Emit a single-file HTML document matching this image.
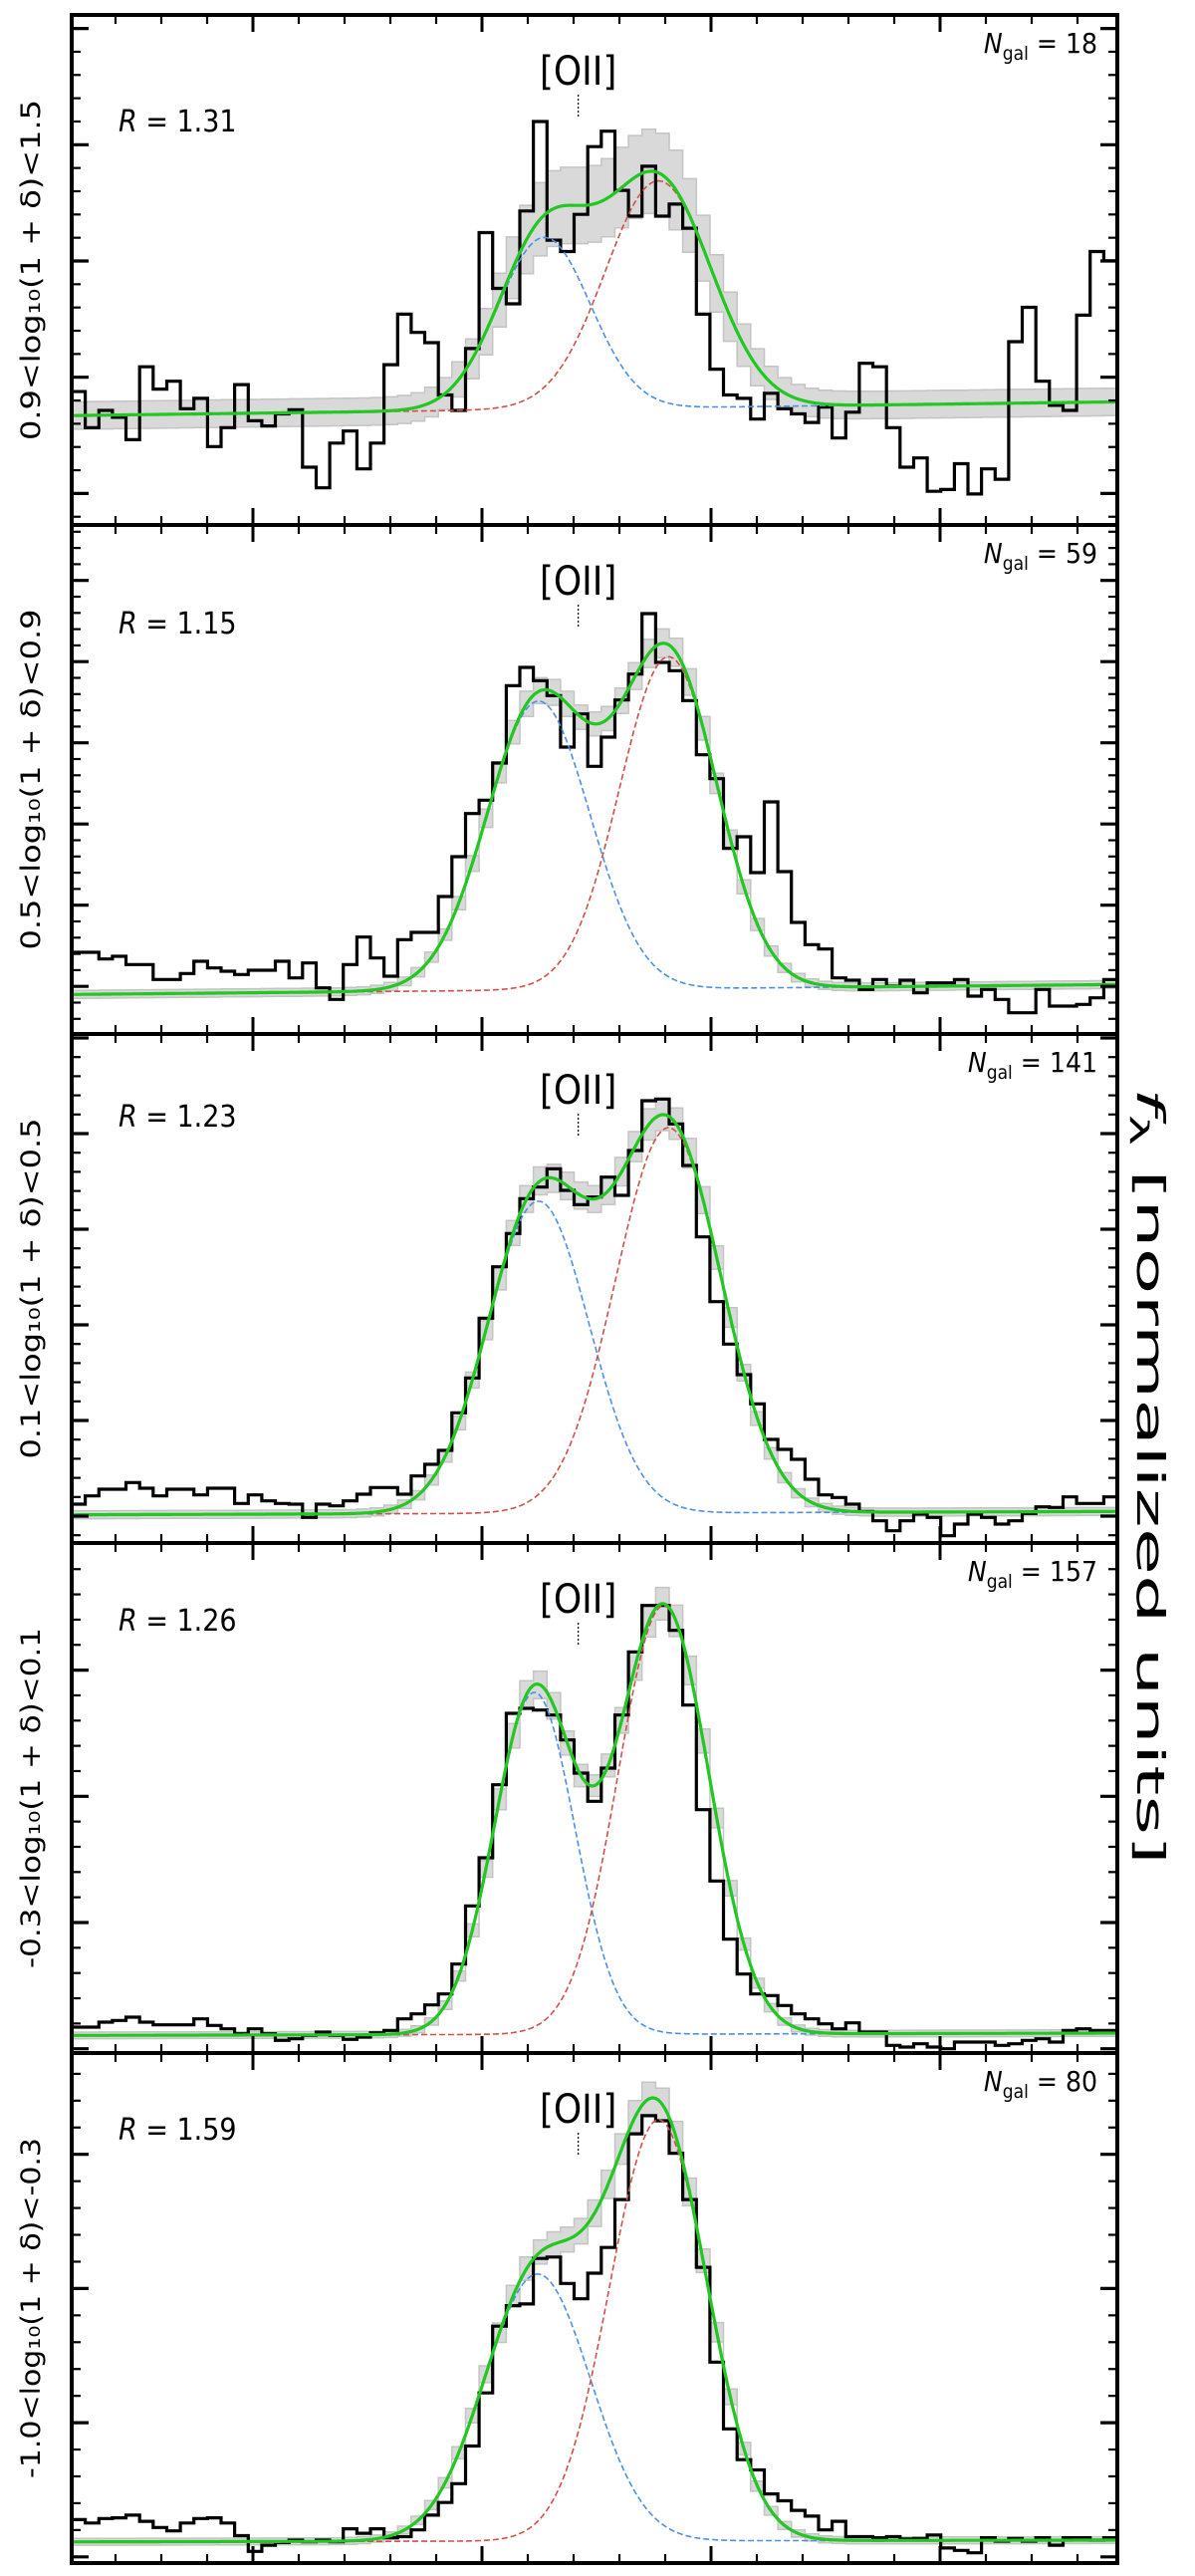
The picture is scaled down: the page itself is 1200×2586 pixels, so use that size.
<!DOCTYPE html>
<html><head><meta charset="utf-8"><style>
html,body{margin:0;padding:0;background:#fff;}
svg{display:block;}
text{font-family:"DejaVu Sans","Liberation Sans",sans-serif;}
.cond{font-family:"DejaVu Sans Condensed","DejaVu Sans","Liberation Sans",sans-serif;}
</style></head><body>
<svg id="fig" xmlns="http://www.w3.org/2000/svg" width="1200" height="2586" viewBox="0 0 1200 2586">
<rect x="0" y="0" width="1200" height="2586" fill="#fff"/>
<text x="0" y="0" font-size="38" transform="translate(1142,1092) rotate(90)" fill="#000" textLength="780" lengthAdjust="spacingAndGlyphs"><tspan font-style="italic">f</tspan><tspan font-size="26" dy="7">λ</tspan><tspan dy="-7"> [normalized units]</tspan></text>
</svg>
<script>
// ---- data: stacked [OII] spectra, flux per bin (normalized units) ----
const panelLabels = ["0.9<log\u2081\u2080(1 + \u03b4)<1.5","0.5<log\u2081\u2080(1 + \u03b4)<0.9","0.1<log\u2081\u2080(1 + \u03b4)<0.5","-0.3<log\u2081\u2080(1 + \u03b4)<0.1","-1.0<log\u2081\u2080(1 + \u03b4)<-0.3"];
const ratioLabels = ["1.31","1.15","1.23","1.26","1.59"];
const ngalLabels = ["18","59","141","157","80"];
const flux1 = [0.65,-0.40,0.10,-0.10,-0.75,1.37,0.72,0.95,0.15,0.45,-0.95,-0.40,0.85,-0.20,-0.35,0,0.12,-1.55,-2.15,-0.85,-0.50,-1.60,-0.85,1.43,2.90,2.37,2.07,0.55,0.10,1.90,5.27,3.65,3.20,5.90,8.50,5.05,4.72,5.80,7.77,8.22,6.50,5.75,7.20,5.75,6.10,5.40,2.90,1.30,0.55,0.45,-0.15,0.60,0.15,0,-0.25,0.20,-0.70,0.05,1.47,1.37,-0.40,-1.55,-1.28,-2.25,-2.20,-1.45,-2.33,-1.60,-1.90,2.10,3.10,0.95,0.25,0.10,2.87,4.72,4.45];
const flux2 = [1.27,1.27,1.07,1.15,0.90,0.90,0.45,0.45,0.63,1.00,0.80,0.70,0.60,0.73,0.73,1.00,0.50,0.95,0.20,-0.15,0.90,1.73,1.10,0.55,1.65,1.87,1.87,2.95,4.15,5.45,5.85,6.97,9.30,9.85,9.45,9.00,7.45,8.45,6.87,7.75,8.87,9.65,11.47,10.00,9.75,8.85,7.22,6.50,4.40,4.75,3.67,5.80,3.70,2.17,1.50,1.37,0.50,0.43,0.15,0.45,0.25,0.43,0.05,0.35,0.35,0.45,-0.05,0.15,-0.15,-0.55,-0.55,0.15,-0.35,-0.35,-0.30,-0.10,0.45];
const flux3 = [0.32,0.57,0.77,0.77,0.97,0.80,0.57,0.77,0.77,0.60,0.80,0.80,0.34,0.60,0.42,0.34,0.32,-0.08,0.32,0.27,0.42,0.62,0.82,0.82,0.62,1.17,1.52,1.94,3.07,4.12,5.92,7.47,8.47,9.52,9.87,10.42,9.77,9.34,9.57,10.17,9.62,10.97,12.47,12.52,11.77,10.52,8.37,6.42,5.14,4.22,3.34,2.27,1.97,1.67,1.07,0.60,0.52,0.32,0.10,-0.18,-0.48,-0.18,0.02,-0.08,-0.63,-0.28,0.02,-0.08,-0.28,-0.18,0.04,0.24,0.22,0.54,0.34,0.34,0.54];
const flux4 = [0.25,0.25,0.40,0.45,0.55,0.40,0.32,0.32,0.32,0.50,0.30,0.20,0.05,0.20,0.05,-0.15,-0.10,0,0.10,0,-0.12,-0.05,0.08,0.15,0.50,0.65,0.92,1.25,2.15,3.90,5.35,7.55,9.70,9.85,9.80,9.65,8.90,7.90,7.05,8.05,9.65,11.55,12.95,12.95,12.20,9.95,6.80,4.65,2.90,1.85,1.25,1.20,0.90,0.65,0.50,0.35,0.20,0.38,0.10,0.10,-0.30,-0.35,-0.25,-0.35,-0.40,-0.20,-0.20,-0.20,-0.30,-0.25,-0.15,-0.10,-0.20,0.15,0.20,0.15,0.15];
const flux5 = [0.65,0.55,0.68,0.70,0.78,0.60,0.42,0.32,0.55,0.68,0.70,0.55,0.18,-0.28,-0.10,-0.02,0.05,0,0.05,0,0.38,0.25,0.38,0.12,0.15,0.35,0.78,1.15,1.70,2.80,4.35,6.30,6.90,6.95,8.28,8.32,7.55,7.10,7.85,8.60,10.00,11.92,12.45,12.30,11.35,10.00,8.02,5.25,3.30,2.40,2.10,1.40,1.20,0.92,0.75,0.35,0.60,0.15,0.15,0.12,0.15,0.08,0.10,0.20,-0.18,-0.25,-0.32,0.12,0.02,0.10,0.02,0.12,-0.10,0.12,0.12,0.05,0.12];
const fluxes = [flux1,flux2,flux3,flux4,flux5];
// gaussian fit components (centre & width in bin units, amplitude in flux units)
const blueCenter = [34.8,34.37,34.37,34.08,34.3];
const blueSigma  = [3.4,3.8,3.73,2.97,3.9];
const blueAmp    = [5.0,8.7,9.4,10.3,7.8];
const redCenter  = [43.2,43.95,43.95,43.58,43.22];
const redSigma   = [3.9,3.6,3.9,3.35,3.6];
const redAmp     = [6.6,10.0,11.6,12.9,12.3];
const contLeft   = [-0.05,0,0,0,0];
const contRight  = [0.35,0.3,0.1,0.07,0.05];
const errBase    = [0.4,0.12,0.12,0.1,0.1];
const errFrac    = [0.12,0.03,0.03,0.03,0.03];
const yMin = [-3.23,-1.19,-0.85,-0.53,-0.62];
const yMax = [11.6,14.14,14.48,14.83,14.28];
const oiiBin = 37.3;

// ---- layout (styling) ----
const NS="http://www.w3.org/2000/svg";
const svg=document.getElementById('fig');
const L=72, R=1122;
const tops=[15,527,1038,1549,2061,2573];
const ytickAnchor=[262,745.7,1234,1803.3,2297.4];
const ytickMajor=[116.7,81.5,96,126.7,134.7];
const rY=[106,98,82,77,76];
function mk(tag,attrs,parent){const e=document.createElementNS(NS,tag);for(const k in attrs)e.setAttribute(k,attrs[k]);(parent||svg).appendChild(e);return e;}

for(let p=0;p<5;p++){
  const data=fluxes[p], N=data.length;
  const top=tops[p], bot=tops[p+1];
  const xs=b=>L+(R-L)*b/N;
  const ys=v=>bot-(v-yMin[p])/(yMax[p]-yMin[p])*(bot-top);
  const cont=b=>contLeft[p]+(contRight[p]-contLeft[p])*b/N;
  const gB=b=>blueAmp[p]*Math.exp(-0.5*Math.pow((b-blueCenter[p])/blueSigma[p],2));
  const gR=b=>redAmp[p]*Math.exp(-0.5*Math.pow((b-redCenter[p])/redSigma[p],2));
  const fit=b=>cont(b)+gB(b)+gR(b);

  const g=mk('g',{});
  
  
  const cp=mk('clipPath',{id:'cp'+p},g);
  mk('rect',{x:L,y:top,width:R-L,height:bot-top},cp);
  const inner=mk('g',{'clip-path':'url(#cp'+p+')'},g);

  let up=[],lo=[];
  for(let i=0;i<N;i++){const f=fit(i+0.5),e=errBase[p]+errFrac[p]*Math.max(0,f-cont(i+0.5));
    up.push([xs(i),ys(f+e)],[xs(i+1),ys(f+e)]);lo.push([xs(i),ys(f-e)],[xs(i+1),ys(f-e)]);}
  const bandPts=up.concat(lo.reverse()).map(q=>q[0].toFixed(1)+','+q[1].toFixed(1)).join(' ');
  const band=mk('polygon',{points:bandPts,fill:'#d9d9d9',stroke:'#c4c4c4','stroke-width':1.5},inner);
  
  

  let d='M'+xs(0)+','+ys(data[0]);
  for(let i=0;i<N;i++){d+=' H'+xs(i+1).toFixed(1);if(i+1<N)d+=' V'+ys(data[i+1]).toFixed(1);}
  const h=mk('path',{d:d,fill:'none',stroke:'#000','stroke-width':3.2,'stroke-linejoin':'miter'},inner);
  
  

  function curve(fn){let s='';for(let b=0;b<=N;b+=0.1){s+=(s?' L':'M')+xs(b).toFixed(1)+','+ys(fn(b)).toFixed(1);}return s;}
  const bl=mk('path',{d:curve(b=>cont(b)+gB(b)),fill:'none',stroke:'#4d8fe8','stroke-width':1.6,'stroke-dasharray':'6,3'},inner);
  
  
  const rd=mk('path',{d:curve(b=>cont(b)+gR(b)),fill:'none',stroke:'#d0504a','stroke-width':1.6,'stroke-dasharray':'6,3'},inner);
  
  
  const gr=mk('path',{d:curve(fit),fill:'none',stroke:'#22c722','stroke-width':3.2},inner);
  
  

  const tk=mk('g',{stroke:'#000'},g);
  
  
  for(let x=254-46*4;x<=R;x+=46){
    if(x<=L+1)continue;
    const major=Math.abs(((x-254)/230)-Math.round((x-254)/230))<0.01;
    const len=major?17:9,w=major?3:2.2;
    mk('line',{x1:x,y1:top,x2:x,y2:top+len,'stroke-width':w},tk);
    mk('line',{x1:x,y1:bot,x2:x,y2:bot-len,'stroke-width':w},tk);
  }
  const mn=ytickMajor[p]/5;
  for(let k=-30;k<=30;k++){
    const y=ytickAnchor[p]+k*mn;
    if(y<=top+3||y>=bot-3)continue;
    const major=(k%5===0);
    const len=major?17:9,w=major?3.2:2.2;
    mk('line',{x1:L,y1:y,x2:L+len,y2:y,'stroke-width':w},tk);
    mk('line',{x1:R,y1:y,x2:R-len,y2:y,'stroke-width':w},tk);
  }
  const fr=mk('rect',{x:L,y:top,width:R-L,height:bot-top,fill:'none',stroke:'#000','stroke-width':4},g);
  
  

  const ox=xs(oiiBin);
  const mt=mk('text',{x:ox,y:top+70,'font-size':40,'text-anchor':'middle',class:'cond'},g);
  mt.textContent='[OII]';
  
  
  const ml=mk('line',{x1:ox,y1:top+80,x2:ox,y2:top+104,stroke:'#000','stroke-width':1.3,'stroke-dasharray':'2,2'},g);
  
  

  const rt=mk('text',{x:119,y:top+rY[p]+11,'font-size':30,class:'cond'},g);
  rt.innerHTML='<tspan font-style="italic">R</tspan> = '+ratioLabels[p];
  
  

  const nt=mk('text',{x:1102,y:top+38,'font-size':28,'text-anchor':'end',class:'cond'},g);
  nt.innerHTML='<tspan font-style="italic">N</tspan><tspan font-size="19" dy="7">gal</tspan><tspan dy="-7"> = '+ngalLabels[p]+'</tspan>';
  
  

  const cy=(top+bot)/2;
  const yl=mk('text',{x:0,y:0,'font-size':27,'text-anchor':'middle',transform:'translate(40,'+cy+') rotate(-90)',textLength:342,lengthAdjust:'spacingAndGlyphs'},g);
  yl.textContent=panelLabels[p];
  
  
}
</script>
</body></html>
